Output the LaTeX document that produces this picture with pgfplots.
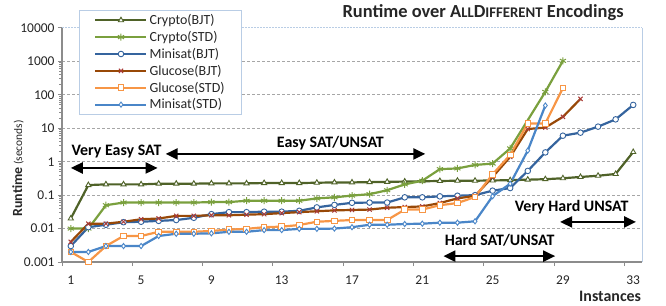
\documentclass[border=0pt]{standalone}
\usepackage{fontspec}
\setmainfont{Carlito}
\usepackage{pgfplots}
\pgfplotsset{compat=1.18}
\usetikzlibrary{arrows.meta}
\definecolor{cbjt}{HTML}{4F6228}
\definecolor{cstd}{HTML}{7AA03E}
\definecolor{mbjt}{HTML}{35649E}
\definecolor{gbjt}{HTML}{984807}
\definecolor{gbjtm}{HTML}{A93B38}
\definecolor{gstd}{HTML}{F79646}
\definecolor{mstd}{HTML}{4A86C8}
\definecolor{axgray}{HTML}{8C8C8C}
\definecolor{bordblue}{HTML}{B9CDE5}
\definecolor{gridgray}{HTML}{A6A6A6}
\definecolor{txt}{HTML}{262626}
\begin{document}
\begin{tikzpicture}
\useasboundingbox (-62bp,-44bp) rectangle (604bp,262bp);
\begin{axis}[
  scale only axis, width=580bp, height=234bp,
  at={(0,0)}, anchor=south west,
  xmin=0.5, xmax=33.5, ymode=log, ymin=0.001, ymax=10000,
  clip=false,
  axis line style={draw=none},
  /pgf/number format/assume math mode=true,
  tick label style={font=\fontsize{13.5}{15}\selectfont, text=txt},
  xticklabel style={yshift=-6bp},
  tick align=outside, major tick length=4bp,
  xtick pos=left, ytick pos=left,
  xtick={1,5,9,13,17,21,25,29,33},
  xticklabels={1,5,9,13,17,21,25,29,33},
  xtick style={draw=none},
  extra x ticks={0.5,4.5,8.5,12.5,16.5,20.5,24.5,28.5,32.5},
  extra x tick labels={},
  extra x tick style={xtick style={draw=axgray, line width=1bp}, grid=none},
  ytick={0.01,0.1,1,10,100,1000},
  yticklabels={0.01,0.1,1,10,100,1000},
  extra y ticks={0.001,10000},
  extra y tick labels={0.001,10000},
  extra y tick style={grid=none},
  ytick style={draw=axgray, line width=1bp},
  ymajorgrids,
  major grid style={draw=gridgray, dash pattern=on 3bp off 2bp, line width=0.8bp},
  legend style={at={(axis description cs:0.0293,1.077)}, anchor=north west,
    draw=bordblue, fill=white, line width=0.8bp,
    font=\fontsize{14}{15}\selectfont, text=txt,
    inner xsep=15bp, inner ysep=2bp, row sep=1.2bp,
    cells={anchor=west}},
  legend image code/.code={\draw[mark repeat=2,mark phase=2] plot coordinates {(0bp,0bp) (25.5bp,0bp) (51bp,0bp)};},
  every axis plot/.append style={line width=2.2bp},
]
\draw[axgray, line width=1.6bp] (rel axis cs:0,1) -- (rel axis cs:0,0) -- (rel axis cs:1,0);
\draw[bordblue, line width=1bp] (rel axis cs:1,0) -- (rel axis cs:1,1);
\draw[bordblue, line width=1bp, dash pattern=on 1.5bp off 1.5bp] (rel axis cs:0,1) -- (rel axis cs:1,1);

% Crypto(BJT)
\addplot[cbjt, mark=triangle*, mark size=3bp, mark options={fill=white, line width=0.9bp}] coordinates {
(1,0.02) (2,0.2) (3,0.21) (4,0.21) (5,0.21) (6,0.22) (7,0.22) (8,0.22) (9,0.225) (10,0.225)
(11,0.225) (12,0.23) (13,0.23) (14,0.23) (15,0.235) (16,0.24) (17,0.24) (18,0.245) (19,0.25) (20,0.255)
(21,0.26) (22,0.265) (23,0.27) (24,0.27) (25,0.275) (26,0.28) (27,0.29) (28,0.30) (29,0.32) (30,0.35)
(31,0.38) (32,0.43) (33,1.95)};
% Crypto(STD)
\addplot[cstd, mark=asterisk, mark size=3.5bp, mark options={line width=1bp}] coordinates {
(1,0.01) (2,0.01) (3,0.05) (4,0.06) (5,0.06) (6,0.06) (7,0.06) (8,0.06) (9,0.062) (10,0.062)
(11,0.068) (12,0.068) (13,0.068) (14,0.068) (15,0.08) (16,0.086) (17,0.097) (18,0.107) (19,0.14) (20,0.21)
(21,0.27) (22,0.6) (23,0.63) (24,0.8) (25,0.88) (26,2.5) (28,123) (29,1040)};
% Minisat(BJT)
\addplot[mbjt, mark=*, mark size=2.8bp, mark options={fill=white, line width=0.9bp}] coordinates {
(1,0.003) (2,0.011) (3,0.013) (4,0.0155) (5,0.016) (6,0.017) (7,0.018) (8,0.021) (9,0.027) (10,0.031)
(11,0.031) (12,0.032) (13,0.032) (14,0.034) (15,0.043) (16,0.051) (17,0.059) (18,0.06) (19,0.06) (20,0.086)
(21,0.086) (22,0.092) (23,0.096) (24,0.1) (25,0.136) (26,0.163) (27,0.53) (28,1.9) (29,6) (30,7.4)
(31,11.2) (32,18.5) (33,50)};
% Glucose(BJT)
\addplot[gbjt, mark=x, mark size=3bp, mark options={draw=gbjtm, line width=1bp}] coordinates {
(1,0.004) (2,0.014) (3,0.014) (4,0.016) (5,0.019) (6,0.02) (7,0.024) (8,0.024) (9,0.025) (10,0.025)
(11,0.026) (12,0.027) (13,0.029) (14,0.031) (15,0.033) (16,0.035) (17,0.036) (18,0.037) (19,0.042) (20,0.044)
(21,0.046) (22,0.058) (23,0.08) (24,0.095) (25,0.35) (26,1.4) (27,9.5) (28,10.5) (29,22) (30,76)};
% Glucose(STD)
\addplot[gstd, mark=square*, mark size=2.8bp, mark options={fill=white, line width=0.9bp}] coordinates {
(1,0.002) (2,0.001) (3,0.003) (4,0.006) (5,0.006) (6,0.008) (7,0.008) (8,0.008) (9,0.0085) (10,0.0093)
(11,0.0098) (12,0.011) (13,0.0114) (14,0.0128) (15,0.016) (16,0.017) (17,0.018) (18,0.018) (19,0.018) (20,0.037)
(21,0.037) (22,0.05) (23,0.058) (24,0.088) (25,0.42) (26,1.6) (27,14) (28,14) (29,160)};
% Minisat(STD)
\addplot[mstd, mark=diamond*, mark size=2.6bp, mark options={fill=white, line width=0.9bp}] coordinates {
(1,0.002) (2,0.002) (3,0.003) (4,0.003) (5,0.003) (6,0.006) (7,0.007) (8,0.007) (9,0.0072) (10,0.008)
(11,0.008) (12,0.009) (13,0.009) (14,0.0098) (15,0.0098) (16,0.01) (17,0.011) (18,0.013) (19,0.013) (20,0.0137)
(21,0.014) (22,0.015) (23,0.015) (24,0.0165) (25,0.093) (26,0.22) (27,2.15) (28,48)};
\legend{Crypto(BJT),Crypto(STD),Minisat(BJT),Glucose(BJT),Glucose(STD),Minisat(STD)}

% annotations
\node[font=\bfseries\fontsize{18.5}{20}\selectfont, text=txt] at (axis description cs:0.726,1.064)
  {Runtime over A{\fontsize{14.8}{16}\selectfont LL}D{\fontsize{14.8}{16}\selectfont IFFERENT} Encodings};
\node[rotate=90, anchor=west, text=txt] at (axis description cs:-0.0759,0.18)
  {{\bfseries\fontsize{14}{16}\selectfont Runtime} {\fontsize{11.5}{13}\selectfont (seconds)}};
\node[font=\bfseries\fontsize{16}{18}\selectfont, text=txt] at (axis description cs:0.945,-0.145) {Instances};

\node[font=\bfseries\fontsize{16}{18}\selectfont] at (axis cs:3.6,1.96) {Very Easy SAT};
\draw[black, line width=2.2bp, {Triangle[length=12bp,width=11bp]}-{Triangle[length=12bp,width=11bp]}] (axis cs:1.0,0.65) -- (axis cs:5.94,0.65);
\node[font=\bfseries\fontsize{16}{18}\selectfont] at (axis cs:15.77,3.66) {Easy SAT/UNSAT};
\draw[black, line width=2.2bp, {Triangle[length=12bp,width=11bp]}-{Triangle[length=12bp,width=11bp]}] (axis cs:6.4,1.71) -- (axis cs:21.17,1.71);
\node[font=\bfseries\fontsize{16}{18}\selectfont] at (axis cs:25.4,0.0046) {Hard SAT/UNSAT};
\draw[black, line width=2.2bp, {Triangle[length=12bp,width=11bp]}-{Triangle[length=12bp,width=11bp]}] (axis cs:22.2,0.0015) -- (axis cs:28.56,0.0015);
\node[font=\bfseries\fontsize{16}{18}\selectfont] at (axis cs:29.5,0.0444) {Very Hard UNSAT};
\draw[black, line width=2.2bp, {Triangle[length=12bp,width=11bp]}-{Triangle[length=12bp,width=11bp]}] (axis cs:28.84,0.0158) -- (axis cs:33.16,0.0158);
\end{axis}
\end{tikzpicture}
\end{document}
